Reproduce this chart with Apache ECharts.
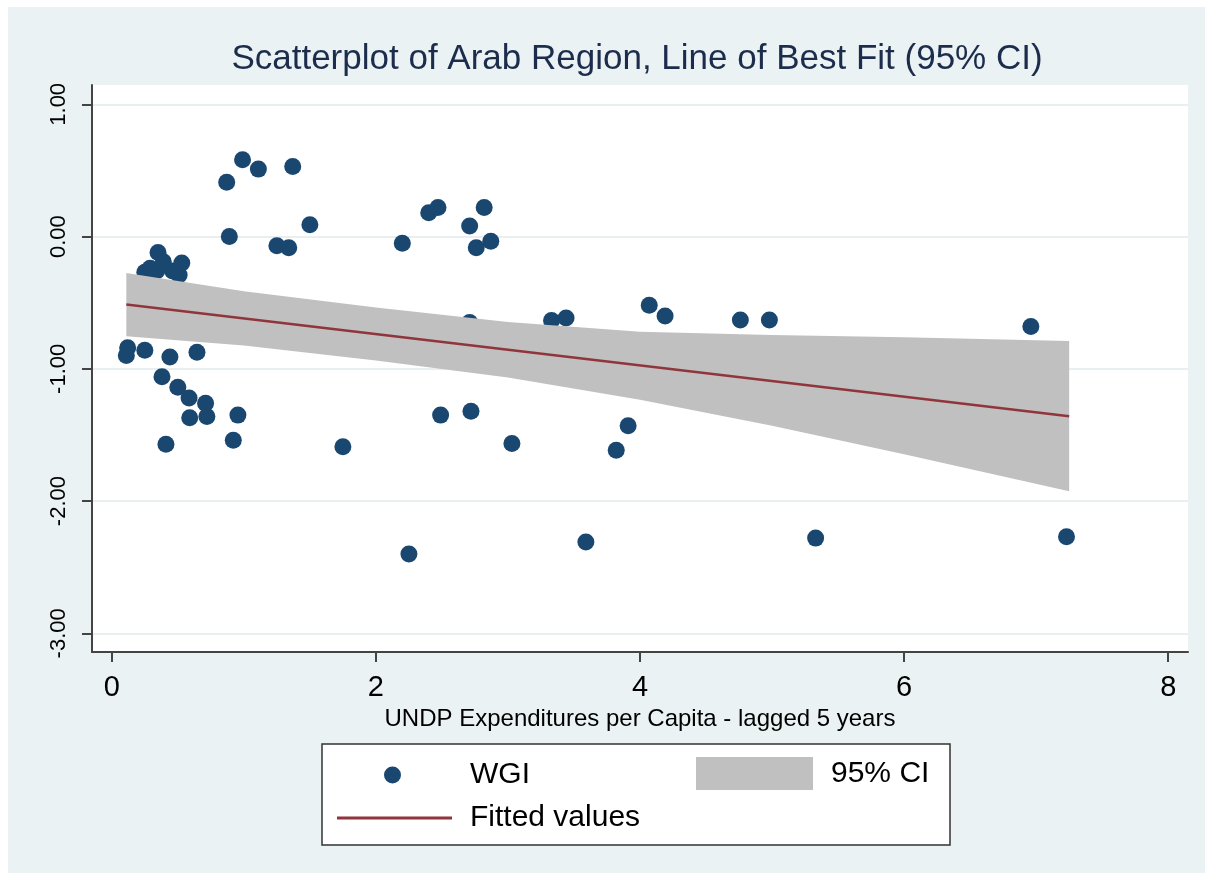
<!DOCTYPE html>
<html>
<head>
<meta charset="utf-8">
<title>Scatterplot of Arab Region</title>
<script src="https://cdn.jsdelivr.net/npm/echarts@6/dist/echarts.min.js"></script>
<style>
  html, body { margin: 0; padding: 0; background: #fff; }
  #chart { position: absolute; left: 8px; top: 7px; width: 1197px; height: 866px; }
</style>
</head>
<body>
<div id="chart"></div>
<script>
// WGI points (x = UNDP expenditures per capita, lagged 5 years)
var wgiX = [0.11, 0.12, 0.25, 0.25, 0.29, 0.34, 0.35, 0.38, 0.39, 0.41, 0.44, 0.46, 0.50, 0.51, 0.53,
  0.585, 0.59, 0.645, 0.68, 0.71, 0.72, 0.80, 0.87, 0.89, 0.92, 0.955, 0.99, 1.11, 1.25, 1.34, 1.37,
  1.50, 1.75, 2.20, 2.25, 2.40, 2.47, 2.49, 2.71, 2.71, 2.72, 2.76, 2.82, 2.87, 3.03, 3.33, 3.44,
  3.59, 3.82, 3.91, 4.07, 4.19, 4.76, 4.98, 5.33, 6.96, 7.23];
var wgiY = [-0.90, -0.84, -0.86, -0.27, -0.24, -0.26, -0.12, -1.06, -0.19, -1.57, -0.91, -0.26, -1.14, -0.29, -0.20,
  -1.22, -1.37, -0.875, -0.73, -1.26, -1.36, -0.73, 0.41, 0.00, -1.54, -1.35, 0.58, 0.51, -0.07, -0.085, 0.53,
  0.09, -1.59, -0.05, -2.40, 0.18, 0.22, -1.35, 0.08, -0.65, -1.32, -0.085, 0.22, -0.035, -1.565, -0.635, -0.615,
  -2.31, -1.615, -1.43, -0.52, -0.60, -0.63, -0.63, -2.28, -0.68, -2.27];

// 95% CI band
var ciX = [0.11, 1, 2, 3, 4, 5, 6, 7.25];
var ciUpper = [-0.275, -0.414, -0.537, -0.646, -0.72, -0.745, -0.762, -0.79];
var ciLower = [-0.754, -0.824, -0.937, -1.066, -1.234, -1.43, -1.645, -1.925];

// fitted values line
var fitX = [0.11, 7.25];
var fitY = [-0.514, -1.358];

var xTicks = [0, 2, 4, 6, 8];
var yTicks = [-3, -2, -1, 0, 1];

var FONT = "'Liberation Sans', Arial, Helvetica, sans-serif";

function pairs(xs, ys) {
  return xs.map(function (x, i) { return [x, ys[i]]; });
}

// whole band as one polygon: upper edge left->right, lower edge right->left
function renderBand(params, api) {
  if (params.dataIndex !== 0) return null;
  var pts = [];
  for (var i = 0; i < ciX.length; i++) pts.push(api.coord([ciX[i], ciUpper[i]]));
  for (var j = ciX.length - 1; j >= 0; j--) pts.push(api.coord([ciX[j], ciLower[j]]));
  return {
    type: 'polygon',
    shape: { points: pts },
    style: { fill: '#c0c0c0', stroke: null }
  };
}

var chart = echarts.init(document.getElementById('chart'));
chart.setOption({
  animation: false,
  backgroundColor: '#eaf2f3',
  textStyle: { fontFamily: FONT },
  title: {
    text: 'Scatterplot of Arab Region, Line of Best Fit (95% CI)',
    left: 624,
    top: 30,
    textAlign: 'center',
    textStyle: { fontFamily: FONT, fontSize: 35, fontWeight: 'normal', color: '#1c2c4c' }
  },
  grid: {
    left: 84, top: 78, width: 1096, height: 567,
    show: true, backgroundColor: '#fff', borderWidth: 0,
    containLabel: false, outerBoundsMode: 'none'
  },
  xAxis: {
    type: 'value',
    min: -0.15, max: 8.15,
    name: 'UNDP Expenditures per Capita - lagged 5 years',
    nameLocation: 'middle',
    nameGap: 52,
    nameTextStyle: { fontFamily: FONT, fontSize: 24, color: '#000' },
    axisLine: { show: true, onZero: false, lineStyle: { color: '#444', width: 2 } },
    axisTick: { show: true, length: 10, customValues: xTicks, lineStyle: { color: '#444', width: 2 } },
    axisLabel: { customValues: xTicks, fontSize: 29, color: '#000', margin: 21 },
    splitLine: { show: false }
  },
  yAxis: {
    type: 'value',
    min: -3.141, max: 1.146,
    axisLine: { show: true, onZero: false, lineStyle: { color: '#444', width: 2 } },
    axisTick: { show: true, length: 10, customValues: yTicks, lineStyle: { color: '#444', width: 2 } },
    axisLabel: {
      customValues: yTicks, rotate: 90, fontSize: 22, color: '#000', margin: 22,
      formatter: function (v) { return v.toFixed(2); }
    },
    splitLine: { show: true, lineStyle: { color: '#e9eff1', width: 2 } }
  },
  legend: [{
    data: [{ name: 'WGI', icon: 'circle' }],
    left: 376, top: 753, padding: 0,
    itemWidth: 17, itemHeight: 17, selectedMode: false,
    textStyle: { fontFamily: FONT, fontSize: 30, color: '#000', padding: [0, 0, 0, 64] }
  }, {
    data: [{ name: '95% CI', icon: 'rect' }],
    left: 688, top: 750, padding: 0,
    itemWidth: 117, itemHeight: 33, selectedMode: false,
    textStyle: { fontFamily: FONT, fontSize: 30, color: '#000', padding: [0, 0, 0, 13] }
  }, {
    data: [{ name: 'Fitted values', icon: 'rect' }],
    left: 329, top: 796, padding: 0,
    itemWidth: 115, itemHeight: 3, selectedMode: false,
    textStyle: { fontFamily: FONT, fontSize: 30, color: '#000', padding: [0, 0, 0, 13] }
  }],
  graphic: [{
    type: 'rect',
    shape: { x: 314, y: 737, width: 628, height: 101 },
    style: { fill: '#fff', stroke: '#333', lineWidth: 1.5 },
    z: 1
  }],
  series: [{
    name: 'WGI',
    type: 'scatter',
    z: 2,
    symbol: 'circle',
    symbolSize: 17,
    itemStyle: { color: '#1a476f', opacity: 1 },
    data: pairs(wgiX, wgiY)
  }, {
    name: '95% CI',
    type: 'custom',
    z: 3,
    renderItem: renderBand,
    itemStyle: { color: '#c0c0c0' },
    encode: { x: 0, y: [1, 2] },
    data: ciX.map(function (x, i) { return [x, ciLower[i], ciUpper[i]]; })
  }, {
    name: 'Fitted values',
    type: 'line',
    z: 4,
    symbol: 'none',
    color: '#90353b',
    itemStyle: { color: '#90353b' },
    lineStyle: { color: '#90353b', width: 2.5 },
    data: pairs(fitX, fitY)
  }]
});
</script>
</body>
</html>
